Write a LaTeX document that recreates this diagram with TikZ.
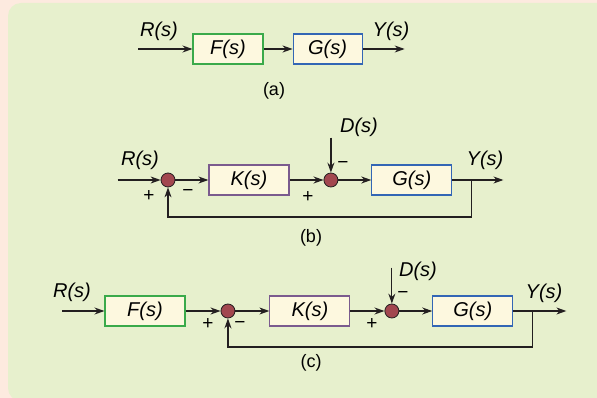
\documentclass[tikz,border=0pt]{standalone}
\usepackage{fontspec}
\setmainfont{Liberation Sans}
\usetikzlibrary{arrows.meta,positioning}
\definecolor{PagePink}{HTML}{FDEADF}
\definecolor{PanelGreen}{HTML}{E7F0CD}
\definecolor{BlockFill}{HTML}{FDF8DF}
\definecolor{EdgeF}{HTML}{3AAA4A}
\definecolor{EdgeK}{HTML}{7B5B8E}
\definecolor{EdgeG}{HTML}{3366B5}
\definecolor{SumRed}{HTML}{A2474F}
\definecolor{LineDark}{HTML}{231F20}

\begin{document}
\begin{tikzpicture}[x=1pt, y=-1pt,
  blk/.style={draw, fill=BlockFill, line width=1.1pt, minimum width=80pt,
    minimum height=30pt, inner sep=0pt, font=\itshape\fontsize{20}{20}\selectfont},
  sum/.style={circle, draw=LineDark, fill=SumRed, line width=0.8pt,
    minimum size=14pt, inner sep=0pt},
  sig/.style={font=\itshape\fontsize{20}{20}\selectfont, inner sep=0pt},
  sgn/.style={font=\fontsize{19}{19}\selectfont, inner sep=0pt},
  subcap/.style={font=\fontsize{18}{18}\selectfont, inner sep=0pt},
  arr/.style={draw=LineDark, line width=1.2pt, -{Stealth[length=10pt,width=7pt]}}]
  % background panel
  \useasboundingbox (0,0) rectangle (597,398);
  \fill[PagePink] (0,0) rectangle (597,398);
  \fill[PanelGreen, rounded corners=13pt] (8,3) rectangle (630,401);

  % (a)
  \node[blk, draw=EdgeF, minimum width=70pt] (fa) at (228,49) {F(s)};
  \node[blk, draw=EdgeG, minimum width=69pt, right=29pt of fa] (ga) {G(s)};
  \coordinate[left=54pt of fa] (ina);
  \coordinate[right=42pt of ga] (outa);
  \draw[arr] (ina) -- (fa);
  \draw[arr] (fa) -- (ga);
  \draw[arr] (ga) -- (outa);
  \node[sig] (ra) at (159,31) {R(s)};
  \node[sig] (ya) at (391,31) {Y(s)};
  \node[subcap] (capa) at (274,91) {(a)};

  % (b)
  \node[sum] (s1b) at (168,180) {};
  \node[blk, draw=EdgeK, right=33pt of s1b] (kb) {K(s)};
  \node[sum, right=34pt of kb] (s2b) {};
  \node[blk, draw=EdgeG, right=33pt of s2b] (gb) {G(s)};
  \coordinate[left=43pt of s1b] (inb);
  \coordinate[right=19pt of gb] (brb);
  \coordinate[right=51pt of gb] (outb);
  \coordinate[above=35pt of s2b] (db);
  \coordinate[below=37pt of brb] (fbb);
  \draw[arr] (inb) -- (s1b);
  \draw[arr] (s1b) -- (kb);
  \draw[arr] (kb) -- (s2b);
  \draw[arr] (s2b) -- (gb);
  \draw[arr] (gb) -- (outb);
  \draw[arr] (db) -- (s2b);
  \draw[arr] (brb) -- (fbb) -| (s1b);
  \node[sig] (rb) at (140,160) {R(s)};
  \node[sig] (yb) at (485,160) {Y(s)};
  \node[sig] (dlb) at (359,127) {D(s)};
  \node[sgn] (p1b) at (149,196) {+};
  \node[sgn] (m1b) at (188,193) {−};
  \node[sgn] (p2b) at (308,197) {+};
  \node[sgn] (m2b) at (343,165) {−};
  \node[subcap] (capb) at (311,238) {(b)};

  % (c)
  \node[blk, draw=EdgeF] (fc) at (145,311) {F(s)};
  \node[sum, right=35pt of fc] (s1c) {};
  \node[blk, draw=EdgeK, right=34pt of s1c] (kc) {K(s)};
  \node[sum, right=34pt of kc] (s2c) {};
  \node[blk, draw=EdgeG, right=33pt of s2c] (gc) {G(s)};
  \coordinate[left=42pt of fc] (inc);
  \coordinate[right=19pt of gc] (brc);
  \coordinate[right=53pt of gc] (outc);
  \coordinate[above=36pt of s2c] (dc);
  \coordinate[below=36pt of brc] (fbc);
  \draw[arr] (inc) -- (fc);
  \draw[arr] (fc) -- (s1c);
  \draw[arr] (s1c) -- (kc);
  \draw[arr] (kc) -- (s2c);
  \draw[arr] (s2c) -- (gc);
  \draw[arr] (gc) -- (outc);
  \draw[arr] (dc) -- (s2c);
  \draw[arr] (brc) -- (fbc) -| (s1c);
  \node[sig] (rc) at (72,292) {R(s)};
  \node[sig] (yc) at (544,293) {Y(s)};
  \node[sig] (dlc) at (418,271) {D(s)};
  \node[sgn] (p1c) at (208,324) {+};
  \node[sgn] (m1c) at (240,325) {−};
  \node[sgn] (p2c) at (372,324) {+};
  \node[sgn] (m2c) at (403,295) {−};
  \node[subcap] (capc) at (311,363) {(c)};
\end{tikzpicture}
\end{document}
